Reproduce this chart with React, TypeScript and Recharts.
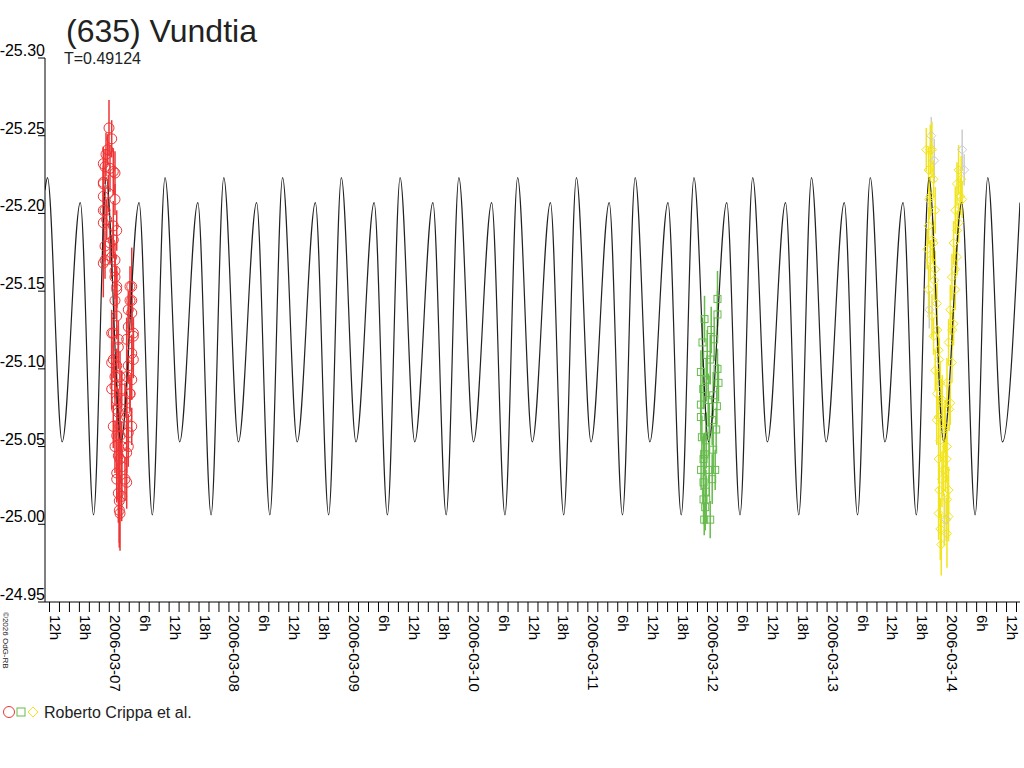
import { ComposedChart, ErrorBar, Line, Scatter, XAxis, YAxis } from "recharts";

const title = "(635) Vundtia";
const periodLabel = "T=0.49124";
const observer = "Roberto Crippa et al.";
const copyright = "©2026 OdG-RB";

// time axis: hours from 2006-03-07 00:00 UT
const dayLabels = [
  "2006-03-07", "2006-03-08", "2006-03-09", "2006-03-10",
  "2006-03-11", "2006-03-12", "2006-03-13", "2006-03-14",
];
const hourTicks = Array.from({ length: 98 }, (_, i) => -12 + i * 2);
const magTicks = [-25.3, -25.25, -25.2, -25.15, -25.1, -25.05, -25.0, -24.95];

const fitCurve = [
  [-12.9, -25.215], [-12.4, -25.223], [-9.46, -25.053], [-5.82, -25.207], [-3.16, -25.006],
  [-0.61, -25.223], [2.33, -25.053], [5.97, -25.207], [8.63, -25.006],
  [11.18, -25.223], [14.12, -25.053], [17.76, -25.207], [20.42, -25.006],
  [22.97, -25.223], [25.91, -25.053], [29.55, -25.207], [32.21, -25.006],
  [34.76, -25.223], [37.7, -25.053], [41.34, -25.207], [44.0, -25.006],
  [46.55, -25.223], [49.49, -25.053], [53.13, -25.207], [55.79, -25.006],
  [58.34, -25.223], [61.28, -25.053], [64.92, -25.207], [67.58, -25.006],
  [70.13, -25.223], [73.07, -25.053], [76.71, -25.207], [79.37, -25.006],
  [81.92, -25.223], [84.86, -25.053], [88.5, -25.207], [91.16, -25.006],
  [93.71, -25.223], [96.65, -25.053], [100.29, -25.207], [102.95, -25.006],
  [105.5, -25.223], [108.44, -25.053], [112.08, -25.207], [114.74, -25.006],
  [117.29, -25.223], [120.23, -25.053], [123.87, -25.207], [126.53, -25.006],
  [129.08, -25.223], [132.02, -25.053], [135.66, -25.207], [138.32, -25.006],
  [140.87, -25.223], [143.81, -25.053], [147.45, -25.207], [150.11, -25.006],
  [152.66, -25.223], [155.6, -25.053], [159.24, -25.207], [161.9, -25.006],
  [164.45, -25.223], [167.39, -25.053], [171.03, -25.207], [173.69, -25.006],
  [176.24, -25.223], [179.18, -25.053], [182.7, -25.207],
];

// observations: [hour, mag, error]
const night1 = [
  [-0.06, -25.255, 0.018], [0.48, -25.248, 0.012], [-0.32, -25.241, 0.01], [-0.66, -25.238, 0.014],
  [-0.86, -25.23, 0.011], [0.8, -25.227, 0.015], [-1.2, -25.22, 0.009], [-1.2, -25.211, 0.012],
  [1.14, -25.209, 0.01], [-0.86, -25.202, 0.013], [-1.2, -25.194, 0.011], [0.8, -25.192, 0.016],
  [0.8, -25.183, 0.012], [-0.86, -25.179, 0.01], [0.48, -25.172, 0.014], [-1.2, -25.168, 0.022],
  [1.14, -25.163, 0.011], [1.49, -25.153, 0.013], [1.14, -25.144, 0.012], [1.49, -25.134, 0.015],
  [0.8, -25.123, 0.01], [1.81, -25.114, 0.014], [0.8, -25.106, 0.012], [1.49, -25.102, 0.011],
  [2.15, -25.095, 0.016], [1.14, -25.089, 0.013], [2.49, -25.087, 0.012], [1.49, -25.08, 0.014],
  [3.15, -25.08, 0.011], [1.81, -25.072, 0.015], [3.49, -25.069, 0.012], [2.15, -25.063, 0.018],
  [1.49, -25.057, 0.013], [3.81, -25.059, 0.012], [2.49, -25.05, 0.016], [1.81, -25.044, 0.014],
  [3.49, -25.046, 0.013], [2.49, -25.037, 0.02], [1.49, -25.029, 0.015], [3.49, -25.027, 0.017],
  [2.15, -25.007, 0.024], [2.0, -25.015, 0.03], [4.5, -25.153, 0.025], [4.15, -25.144, 0.012],
  [4.5, -25.136, 0.011], [3.81, -25.127, 0.013], [4.82, -25.123, 0.01], [3.49, -25.119, 0.014],
  [4.5, -25.11, 0.012], [3.81, -25.102, 0.011], [4.5, -25.093, 0.013], [4.15, -25.084, 0.012],
  [-1.2, -25.219, 0.012], [1.14, -25.226, 0.014], [-1.2, -25.202, 0.01], [1.49, -25.189, 0.013],
  [-0.86, -25.17, 0.012], [1.14, -25.17, 0.011], [1.14, -25.159, 0.014], [1.49, -25.151, 0.012],
  [4.15, -25.153, 0.013], [4.5, -25.144, 0.011], [3.81, -25.138, 0.012], [0.48, -25.123, 0.015],
  [1.81, -25.119, 0.012], [4.82, -25.121, 0.011], [0.48, -25.104, 0.013], [4.82, -25.106, 0.012],
  [1.14, -25.095, 0.014], [3.49, -25.095, 0.012], [0.48, -25.087, 0.013], [4.15, -25.084, 0.011],
  [1.49, -25.074, 0.016], [3.49, -25.072, 0.013], [0.8, -25.063, 0.014], [4.5, -25.063, 0.012],
  [2.15, -25.057, 0.015], [1.14, -25.05, 0.017], [3.81, -25.05, 0.013], [2.15, -25.042, 0.016],
  [1.49, -25.033, 0.018], [3.15, -25.029, 0.014], [1.81, -25.02, 0.019], [2.49, -25.018, 0.016],
  [2.01, -25.009, 0.021], [-1.2, -25.232, 0.011], [0.14, -25.229, 0.015], [-0.2, -25.213, 0.012],
  [-0.52, -25.196, 0.013], [0.14, -25.181, 0.014],
];

const night2 = [
  [122.01, -25.145, 0.018], [122.01, -25.135, 0.015], [119.0, -25.117, 0.016], [120.75, -25.125, 0.015],
  [118.68, -25.098, 0.014], [122.01, -25.1, 0.013], [122.21, -25.091, 0.012], [120.55, -25.106, 0.016],
  [119.75, -25.093, 0.014], [120.15, -25.08, 0.017], [118.68, -25.077, 0.013], [121.89, -25.076, 0.012],
  [118.68, -25.069, 0.015], [120.95, -25.067, 0.016], [118.88, -25.056, 0.014], [119.75, -25.054, 0.018],
  [121.15, -25.048, 0.015], [119.21, -25.042, 0.016], [121.55, -25.035, 0.013], [120.35, -25.035, 0.017],
  [119.21, -25.027, 0.015], [119.69, -25.021, 0.014], [119.21, -25.016, 0.016], [119.55, -25.011, 0.015],
  [119.35, -25.003, 0.01], [119.41, -25.132, 0.015], [121.35, -25.119, 0.014], [119.95, -25.109, 0.016],
  [119.15, -25.087, 0.013], [121.15, -25.083, 0.015], [120.35, -25.061, 0.017], [119.41, -25.045, 0.014],
  [120.95, -25.029, 0.016], [119.75, -25.016, 0.015], [118.72, -25.035, 0.013], [121.75, -25.061, 0.014],
  [120.55, -25.003, 0.012],
];

const night3 = [
  [164.7, -25.241, 0.016], [165.04, -25.241, 0.018], [164.36, -25.228, 0.014], [165.36, -25.222, 0.012],
  [164.7, -25.211, 0.013], [165.7, -25.202, 0.015], [164.36, -25.192, 0.012], [165.36, -25.181, 0.014],
  [164.7, -25.17, 0.013], [165.7, -25.164, 0.012], [164.36, -25.151, 0.016], [166.04, -25.142, 0.013],
  [165.04, -25.134, 0.014], [165.36, -25.121, 0.012], [166.37, -25.112, 0.015], [165.7, -25.099, 0.013],
  [166.71, -25.091, 0.014], [166.04, -25.084, 0.016], [167.05, -25.078, 0.015], [166.37, -25.069, 0.013],
  [167.71, -25.063, 0.017], [166.71, -25.054, 0.014], [168.05, -25.05, 0.015], [166.37, -25.042, 0.016],
  [167.71, -25.035, 0.014], [167.05, -25.029, 0.018], [168.37, -25.022, 0.015], [166.37, -25.007, 0.017],
  [168.37, -25.005, 0.016], [166.71, -24.997, 0.02], [168.05, -24.994, 0.022],
  [170.38, -25.228, 0.016], [170.06, -25.219, 0.014], [170.72, -25.211, 0.012], [169.72, -25.202, 0.015],
  [170.38, -25.194, 0.013], [169.38, -25.181, 0.014], [170.06, -25.172, 0.012], [169.05, -25.159, 0.015],
  [169.72, -25.151, 0.013], [168.71, -25.138, 0.016], [169.38, -25.129, 0.014], [168.37, -25.117, 0.015],
  [169.05, -25.104, 0.013], [168.05, -25.091, 0.016], [168.71, -25.078, 0.014],
  [164.49, -25.209, 0.013], [165.1, -25.183, 0.014], [165.5, -25.157, 0.013], [166.1, -25.125, 0.015],
  [166.5, -25.106, 0.014], [167.1, -25.08, 0.016], [167.5, -25.061, 0.015], [167.3, -25.035, 0.017],
  [168.1, -25.016, 0.016], [166.5, -25.022, 0.018], [167.5, -25.003, 0.017], [166.9, -24.987, 0.02],
  [168.5, -25.074, 0.014], [169.1, -25.125, 0.013], [169.7, -25.164, 0.014], [170.1, -25.189, 0.013],
  [170.9, -25.222, 0.015], [171.1, -25.209, 0.012], [163.9, -25.241, 0.014], [164.1, -25.177, 0.013],
  [166.0, -25.067, 0.016], [168.0, -25.042, 0.015],
];

// faint (low-weight) points of the third night
const night3Faint = [
  [164.9, -25.25, 0.012], [165.5, -25.234, 0.014], [171.1, -25.241, 0.013],
  [171.5, -25.228, 0.01], [164.5, -25.138, 0.012], [167.9, -25.003, 0.014],
];

const RED = "#ee3535";
const GREEN = "#66bb4c";
const YELLOW = "#f2e41c";
const GREY = "#cccccc";
const FONT = "'Liberation Sans', Arial, sans-serif";

const toRows = (rows: number[][]) => rows.map(([t, mag, err]) => ({ t, mag, err }));

function hourLabel(h: number) {
  const d = Math.floor(h / 24);
  const hh = h - d * 24;
  return hh === 0 ? dayLabels[d] : `${hh}h`;
}

function XTick({ x, y, payload }: any) {
  const h = payload.value;
  return (
    <g>
      <line x1={x} x2={x} y1={y} y2={y + 10} stroke="#000" />
      {h % 6 === 0 && (
        <text transform={`translate(${x + 0.5},${y + 13}) rotate(90)`} fontSize={15} fontFamily={FONT} fill="#000">
          {hourLabel(h)}
        </text>
      )}
    </g>
  );
}

function YTick({ x, y, payload }: any) {
  return (
    <g>
      <line x1={x - 7} x2={x} y1={y} y2={y} stroke="#000" />
      <text x={x} y={y - 2} textAnchor="end" fontSize={16} fontFamily={FONT} fill="#000">
        {payload.value.toFixed(2)}
      </text>
    </g>
  );
}

const circle = (color: string) => (p: any) => (
  <circle cx={p.cx} cy={p.cy} r={5} fill="none" stroke={color} />
);
const square = (color: string) => (p: any) => (
  <rect x={p.cx - 3.5} y={p.cy - 3.5} width={7} height={7} fill="none" stroke={color} />
);
const diamond = (color: string) => (p: any) => (
  <path d={`M${p.cx},${p.cy - 4.5}L${p.cx + 4.5},${p.cy}L${p.cx},${p.cy + 4.5}L${p.cx - 4.5},${p.cy}Z`} fill="none" stroke={color} />
);

export default function App() {
  const fit = fitCurve.map(([t, mag]) => ({ t, mag }));
  return (
    <div style={{ position: "absolute", left: 0, top: 0, width: 1024, height: 768, background: "#fff" }}>
      <ComposedChart width={1024} height={768} margin={{ top: 58, right: 4, bottom: 0, left: 0 }}>
        <XAxis
          type="number"
          dataKey="t"
          domain={[-12.9, 182.7]}
          ticks={hourTicks}
          interval={0}
          allowDataOverflow
          height={166}
          tickSize={0}
          tickMargin={0}
          tick={XTick}
          axisLine={{ stroke: "#000" }}
          tickLine={false}
        />
        <YAxis
          type="number"
          dataKey="mag"
          domain={[-25.3, -24.95]}
          ticks={magTicks}
          interval={0}
          reversed
          allowDataOverflow
          width={45}
          tickSize={0}
          tickMargin={0}
          tick={YTick}
          axisLine={{ stroke: "#000" }}
          tickLine={false}
        />
        <Scatter data={toRows(night3Faint)} dataKey="mag" shape={diamond(GREY)} isAnimationActive={false}>
          <ErrorBar dataKey="err" direction="y" width={0} stroke={GREY} strokeWidth={1.5} />
        </Scatter>
        <Scatter data={toRows(night1)} dataKey="mag" shape={circle(RED)} isAnimationActive={false}>
          <ErrorBar dataKey="err" direction="y" width={0} stroke={RED} strokeWidth={1.5} />
        </Scatter>
        <Scatter data={toRows(night2)} dataKey="mag" shape={square(GREEN)} isAnimationActive={false}>
          <ErrorBar dataKey="err" direction="y" width={0} stroke={GREEN} strokeWidth={1.5} />
        </Scatter>
        <Scatter data={toRows(night3)} dataKey="mag" shape={diamond(YELLOW)} isAnimationActive={false}>
          <ErrorBar dataKey="err" direction="y" width={0} stroke={YELLOW} strokeWidth={1.5} />
        </Scatter>
        <Line
          data={fit}
          dataKey="mag"
          type="monotone"
          stroke="#222"
          strokeWidth={1.2}
          dot={false}
          activeDot={false}
          isAnimationActive={false}
        />
      </ComposedChart>
      <svg width={1024} height={768} style={{ position: "absolute", left: 0, top: 0, pointerEvents: "none" }}>
        <text x={66} y={42} fontSize={32} fontFamily={FONT} fill="#222">{title}</text>
        <text x={64} y={64} fontSize={16} fontFamily={FONT} fill="#222">{periodLabel}</text>
        <text transform="translate(3,612) rotate(90)" fontSize={8} fontFamily={FONT} fill="#222">{copyright}</text>
        <circle cx={9} cy={712} r={5.5} fill="none" stroke={RED} />
        <rect x={17} y={708} width={8} height={8} fill="none" stroke={GREEN} />
        <path d="M33,707L38,712L33,717L28,712Z" fill="none" stroke={YELLOW} />
        <text x={44} y={718} fontSize={16} fontFamily={FONT} fill="#222">{observer}</text>
      </svg>
    </div>
  );
}
